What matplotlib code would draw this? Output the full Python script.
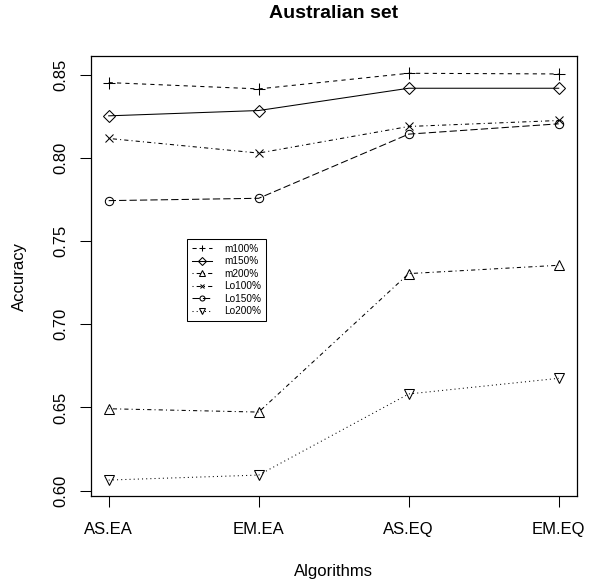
import matplotlib
matplotlib.use("Agg")
import matplotlib.pyplot as plt
from matplotlib.lines import Line2D

plt.rcParams['font.family'] = ['Liberation Sans', 'DejaVu Sans']

# data
algorithms = ['AS.EA', 'EM.EA', 'AS.EQ', 'EM.EQ']
m100 = [0.8454, 0.8416, 0.8510, 0.8506]
m150 = [0.8254, 0.8286, 0.8420, 0.8420]
m200 = [0.6492, 0.6472, 0.7305, 0.7355]
lo100 = [0.8118, 0.8030, 0.8190, 0.8226]
lo150 = [0.7744, 0.7758, 0.8144, 0.8206]
lo200 = [0.6063, 0.6093, 0.6581, 0.6675]

series = [
    ('m100%', m100, '+', (0, (4, 4)), 8),
    ('m150%', m150, 'D', '-', 6.5),
    ('m200%', m200, '^', (0, (1, 3, 4, 3)), 7.5),
    ('Lo100%', lo100, 'x', (0, (1, 3, 4, 3)), 6),
    ('Lo150%', lo150, 'o', (0, (7, 3)), 6),
    ('Lo200%', lo200, 'v', (0, (1, 3)), 7.5),
]

fig = plt.figure(figsize=(6.03, 5.83), dpi=100)
ax = fig.add_axes([0.1504, 0.1492, 0.806, 0.7539])

x = list(range(len(algorithms)))
handles = []
for name, vals, mk, ls, ms in series:
    ax.plot(x, vals, color='black', linewidth=0.75, linestyle=ls,
            marker=mk, markersize=ms, markerfacecolor='none',
            markeredgecolor='black', markeredgewidth=0.75)
    # smaller copy for the legend, like R's cex in legend()
    handles.append(Line2D([], [], color='black', linewidth=0.75, linestyle=ls,
                          marker=mk, markersize=ms * 0.6, markerfacecolor='none',
                          markeredgecolor='black', markeredgewidth=0.75,
                          label=name))

ax.set_xlim(-0.12, 3.12)
ax.set_ylim(0.5967, 0.8611)
ax.set_xticks(x)
ax.set_xticklabels(algorithms)
ax.set_yticks([0.60, 0.65, 0.70, 0.75, 0.80, 0.85])
ax.set_yticklabels(['0.60', '0.65', '0.70', '0.75', '0.80', '0.85'],
                   rotation=90, va='center')
ax.tick_params(direction='out', length=8, width=0.75, labelsize=12, pad=8)
ax.tick_params(axis='x', pad=10.4)
for s in ax.spines.values():
    s.set_linewidth(0.9)

ax.set_xlabel('Algorithms', fontsize=12, labelpad=20)
ax.set_ylabel('Accuracy', fontsize=12, labelpad=19)
fig.text(0.5528, 0.976, 'Australian set', ha='center', va='center',
         fontsize=14, fontweight='bold')

leg = ax.legend(handles=handles, loc='upper left', bbox_to_anchor=(0.198, 0.585),
                borderaxespad=0, fontsize=7.2, handlelength=2.0,
                handletextpad=1.2, labelspacing=0.25, borderpad=0.5,
                fancybox=False, framealpha=1, edgecolor='black')
leg.get_frame().set_linewidth(0.75)

fig.savefig('out.png', dpi=100)
